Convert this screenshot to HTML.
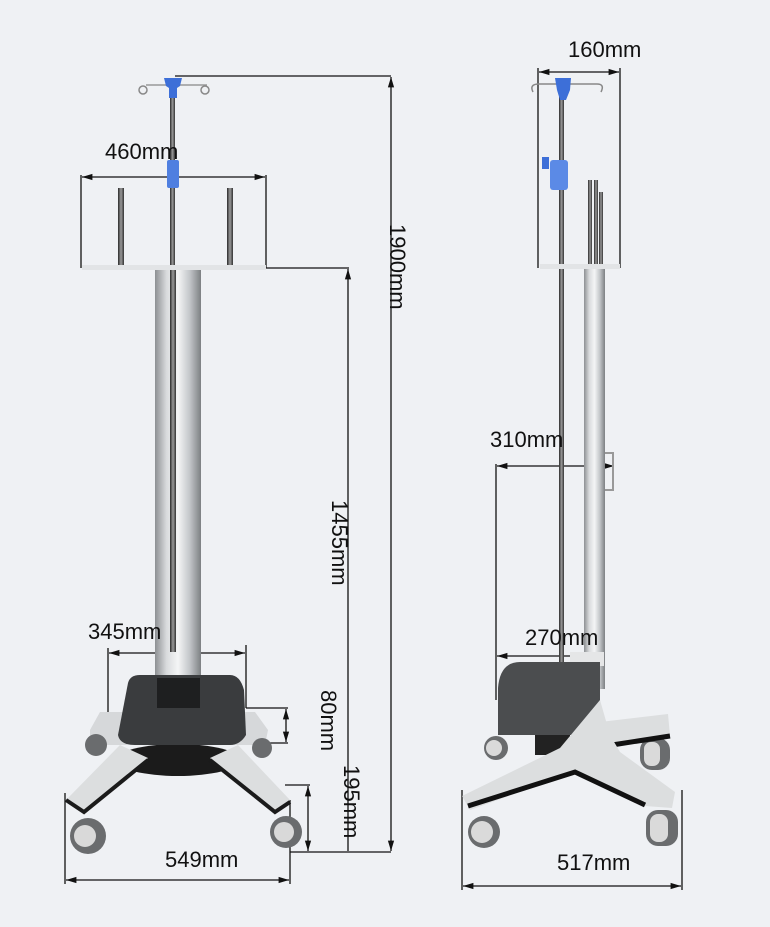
<!DOCTYPE html>
<html><head><meta charset="utf-8"><style>
html,body{margin:0;padding:0;background:#eff1f4;}
svg{display:block}
text{font-family:"Liberation Sans",sans-serif;font-size:22px;fill:#111;}
</style></head><body>
<svg width="770" height="927" viewBox="0 0 770 927" xmlns="http://www.w3.org/2000/svg">
<defs>
<linearGradient id="silver" x1="0" x2="1" y1="0" y2="0">
<stop offset="0" stop-color="#8d9093"/><stop offset="0.25" stop-color="#d9dbdd"/><stop offset="0.5" stop-color="#f4f5f6"/><stop offset="0.75" stop-color="#c4c7ca"/><stop offset="1" stop-color="#7d8083"/></linearGradient>
<linearGradient id="rod" x1="0" x2="1"><stop offset="0" stop-color="#2a2a2a"/><stop offset="0.5" stop-color="#9a9a9a"/><stop offset="1" stop-color="#333"/></linearGradient>
<marker id="a" viewBox="0 0 10 10" refX="10" refY="5" markerWidth="8" markerHeight="8" orient="auto-start-reverse"><path d="M0,2 L10,5 L0,8z" fill="#111"/></marker>
</defs>
<g stroke="#111" stroke-width="1.3" fill="none">
<line x1="175" y1="76" x2="391" y2="76"/>
<line x1="391" y1="77" x2="391" y2="851" marker-start="url(#a)" marker-end="url(#a)"/>
<line x1="266" y1="268" x2="349" y2="268"/>
<line x1="348" y1="269" x2="348" y2="851" marker-start="url(#a)"/>
<line x1="290" y1="852" x2="391" y2="852"/>
<line x1="81" y1="175" x2="81" y2="268"/><line x1="266" y1="175" x2="266" y2="268"/>
<line x1="82" y1="177" x2="265" y2="177" marker-start="url(#a)" marker-end="url(#a)"/>
<line x1="108" y1="648" x2="108" y2="717"/><line x1="246" y1="645" x2="246" y2="708"/>
<line x1="109" y1="653" x2="245" y2="653" marker-start="url(#a)" marker-end="url(#a)"/>
<line x1="246" y1="708" x2="288" y2="708"/><line x1="240" y1="743" x2="288" y2="743"/>
<line x1="286" y1="709" x2="286" y2="742" marker-start="url(#a)" marker-end="url(#a)"/>
<line x1="285" y1="785" x2="310" y2="785"/>
<line x1="308" y1="786" x2="308" y2="851" marker-start="url(#a)" marker-end="url(#a)"/>
<line x1="65" y1="793" x2="65" y2="884"/><line x1="290" y1="800" x2="290" y2="884"/>
<line x1="66" y1="880" x2="289" y2="880" marker-start="url(#a)" marker-end="url(#a)"/>
<line x1="538" y1="68" x2="538" y2="268"/><line x1="620" y1="68" x2="620" y2="268"/>
<line x1="539" y1="72" x2="619" y2="72" marker-start="url(#a)" marker-end="url(#a)"/>
<line x1="496" y1="464" x2="496" y2="700"/>
<line x1="497" y1="466" x2="614" y2="466" marker-start="url(#a)" marker-end="url(#a)"/>
<line x1="497" y1="656" x2="600" y2="656" marker-start="url(#a)" marker-end="url(#a)"/>
<line x1="462" y1="790" x2="462" y2="890"/><line x1="682" y1="790" x2="682" y2="890"/>
<line x1="463" y1="886" x2="681" y2="886" marker-start="url(#a)" marker-end="url(#a)"/>
</g>
<!-- LEFT STAND -->
<path d="M146,85 L207,85" stroke="#999" stroke-width="1.5" fill="none"/>
<circle cx="143" cy="90" r="4" stroke="#888" fill="none" stroke-width="1.5"/>
<circle cx="205" cy="90" r="4" stroke="#888" fill="none" stroke-width="1.5"/>
<rect x="170" y="90" width="5" height="180" fill="url(#rod)"/>
<path d="M164,78 L182,78 L180,86 L177,88 L177,98 L169,98 L169,88 L166,86z" fill="#3d6fd8"/>
<rect x="167" y="160" width="12" height="28" rx="2" fill="#4f7fe0"/>
<rect x="118" y="188" width="6" height="80" fill="url(#rod)"/>
<rect x="227" y="188" width="6" height="80" fill="url(#rod)"/>
<rect x="82" y="265" width="184" height="5" fill="#e2e4e6"/>
<rect x="155" y="270" width="46" height="385" fill="url(#silver)"/>
<rect x="170" y="270" width="6" height="385" fill="url(#rod)"/>
<rect x="155" y="652" width="46" height="28" fill="url(#silver)"/>
<path d="M100,712 L255,712 L268,730 L265,745 L90,745 L90,730z" fill="#d6d8da"/>
<ellipse cx="178" cy="760" rx="62" ry="16" fill="#1b1b1b"/>
<path d="M120,745 L148,758 L84,812 L66,800z" fill="#dcdedf"/>
<path d="M66,800 L84,812 L148,760" stroke="#1b1b1b" stroke-width="4" fill="none"/>
<path d="M238,745 L210,758 L275,812 L290,800z" fill="#dcdedf"/>
<path d="M210,760 L275,812 L290,802" stroke="#1b1b1b" stroke-width="4" fill="none"/>
<path d="M128,683 Q130,675 140,675 L230,675 Q240,675 244,690 L246,735 Q240,745 230,745 L135,745 Q120,745 118,735z" fill="#3a3c3e"/>
<rect x="157" y="678" width="43" height="30" fill="#1e1f20"/>
<circle cx="88" cy="836" r="18" fill="#6a6c6e"/><circle cx="85" cy="836" r="11" fill="#d9d9d9"/>
<circle cx="286" cy="832" r="16" fill="#6a6c6e"/><circle cx="284" cy="832" r="10" fill="#d9d9d9"/>
<circle cx="96" cy="745" r="11" fill="#6a6c6e"/><circle cx="262" cy="748" r="10" fill="#6a6c6e"/>
<!-- RIGHT STAND -->
<path d="M533,92 q-4,-8 6,-8 L597,84 q8,0 4,8" stroke="#888" stroke-width="1.5" fill="none"/>
<rect x="559" y="88" width="5" height="602" fill="url(#rod)"/>
<path d="M555,78 L571,78 L570,90 L566,100 L560,100 L557,90z" fill="#3d6fd8"/>
<rect x="542" y="157" width="7" height="12" fill="#3d6fd8"/>
<rect x="550" y="160" width="18" height="30" rx="3" fill="#5b8ae6"/>
<rect x="588" y="180" width="4" height="88" fill="url(#rod)"/>
<rect x="594" y="180" width="4" height="88" fill="url(#rod)"/>
<rect x="599" y="192" width="4" height="76" fill="url(#rod)"/>
<rect x="540" y="264" width="80" height="5" fill="#e2e4e6"/>
<rect x="584" y="269" width="21" height="420" fill="url(#silver)"/>
<path d="M605,453 L613,453 L613,490 L605,490" stroke="#999" stroke-width="2" fill="none"/>
<rect x="570" y="652" width="34" height="14" fill="#e5e6e7"/>
<rect x="535" y="730" width="35" height="25" fill="#222"/>
<circle cx="496" cy="748" r="12" fill="#6a6c6e"/><circle cx="494" cy="748" r="8" fill="#dadada"/>
<rect x="640" y="738" width="30" height="32" rx="12" fill="#6a6c6e"/><rect x="644" y="742" width="16" height="24" rx="7" fill="#dadada"/>
<path d="M498,688 Q500,662 520,662 L600,662 L600,722 L590,735 L498,735z" fill="#4b4d4f"/>
<!-- star base -->
<path d="M600,722 L668,714 L670,736 L612,745z" fill="#dcdedf"/>
<path d="M612,745 L670,736" stroke="#111" stroke-width="5"/>
<path d="M462,796 L560,748 L600,700 L610,735 L620,752 L675,792 L672,808 L645,806 L575,772 L470,810z" fill="#dcdedf"/>
<path d="M468,806 L575,772 L645,805" stroke="#111" stroke-width="5" fill="none"/>
<circle cx="484" cy="832" r="16" fill="#6a6c6e"/><circle cx="482" cy="832" r="11" fill="#dadada"/>
<rect x="646" y="810" width="32" height="36" rx="12" fill="#6a6c6e"/><rect x="650" y="814" width="18" height="28" rx="8" fill="#dadada"/>
<!-- labels -->
<text x="105" y="159">460mm</text>
<text x="88" y="639">345mm</text>
<text x="165" y="867">549mm</text>
<text x="568" y="57">160mm</text>
<text x="490" y="447">310mm</text>
<text x="525" y="645">270mm</text>
<text x="557" y="870">517mm</text>
<text transform="translate(390,224) rotate(90)">1900mm</text>
<text transform="translate(332,500) rotate(90)">1455mm</text>
<text transform="translate(321,690) rotate(90)">80mm</text>
<text transform="translate(344,765) rotate(90)">195mm</text>
</svg>
</body></html>
